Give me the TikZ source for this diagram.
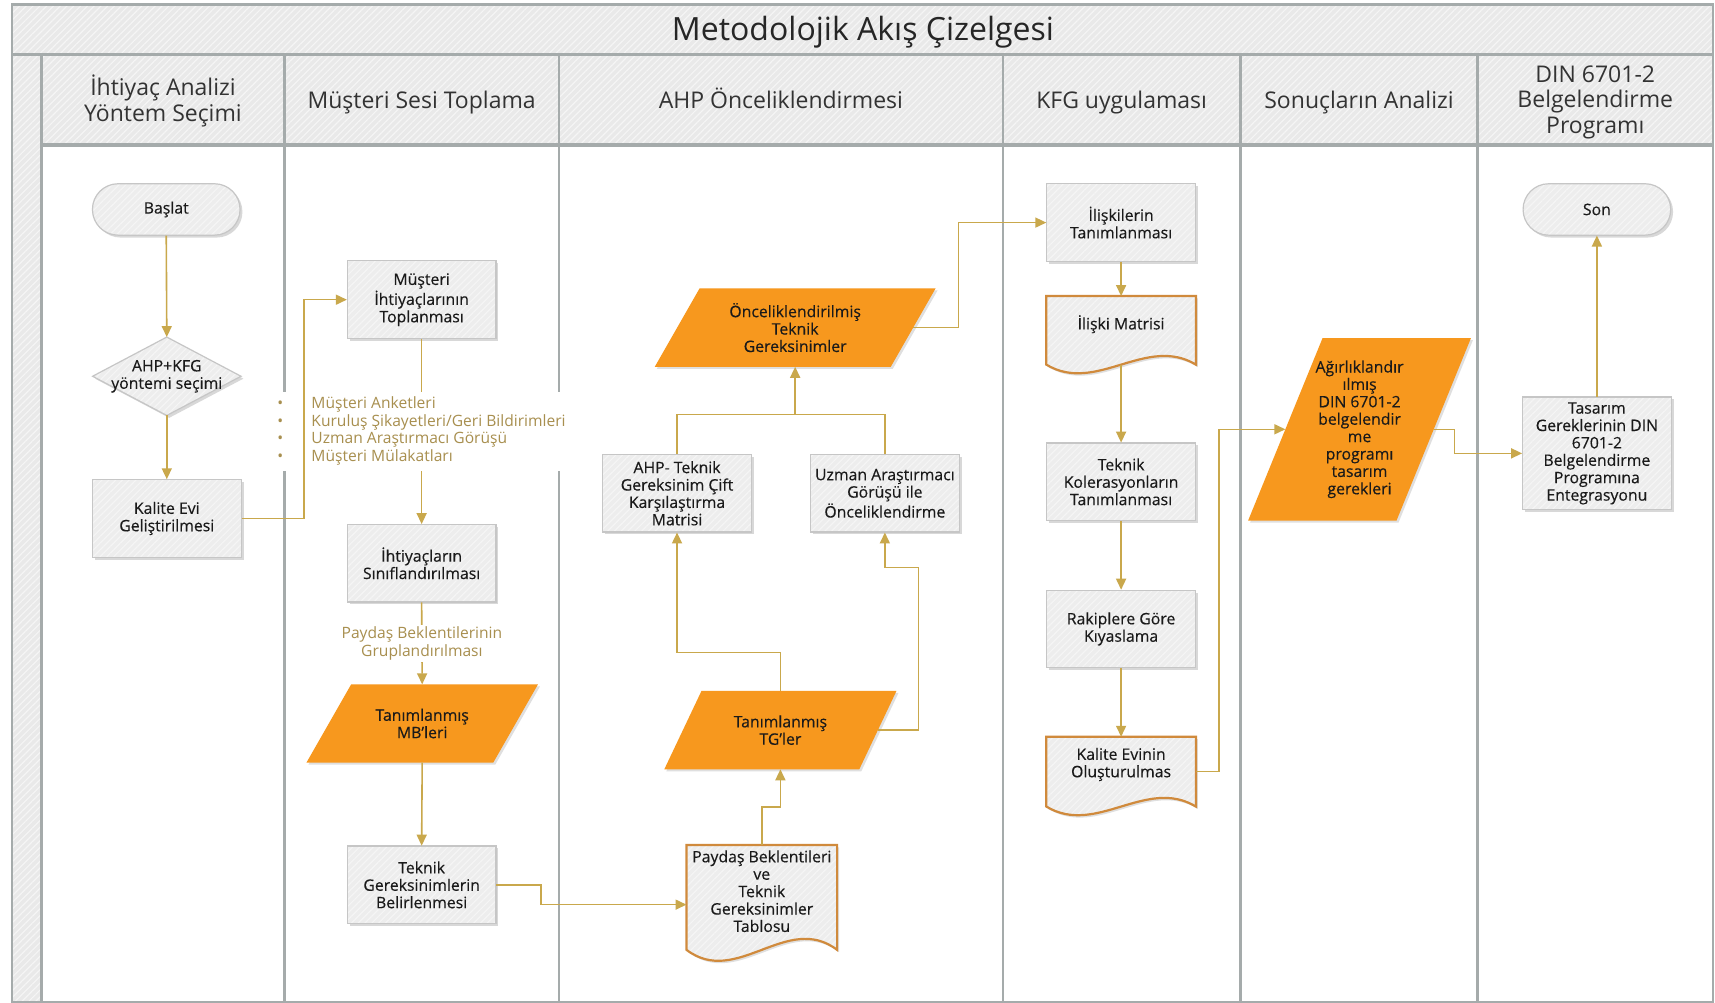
\documentclass[tikz,border=0pt]{standalone}
\usepackage{fontspec}
\setmainfont{Open Sans}
\newfontfamily\boxfam[FakeBold=0.35]{Open Sans}
\usetikzlibrary{arrows.meta,shadows,calc,patterns.meta}
\pgfdeclarelayer{lanes}
\pgfdeclarelayer{shp}
\pgfsetlayers{lanes,shp,main}

\definecolor{gold}{HTML}{C9A84C}
\definecolor{goldtxt}{HTML}{A88F4F}
\definecolor{orng}{HTML}{F7981E}
\definecolor{boxfill}{HTML}{EDEDED}
\definecolor{boxline}{HTML}{C6C6C6}
\definecolor{docline}{HTML}{D08A3C}
\definecolor{lanegray}{HTML}{A5ABAB}
\definecolor{bandfill}{HTML}{E9E9E9}
\definecolor{txt}{HTML}{1A1A1A}

\newcommand\myboxf{\boxfam\fontsize{7.9pt}{8.7pt}\selectfont}
\newcommand\myhdrf{\fontsize{11.5pt}{12.9pt}\selectfont}
\newcommand\mytitf{\fontsize{16pt}{18pt}\selectfont}
\newcommand\mybulf{\fontsize{7.8pt}{8.9pt}\selectfont}
\newcommand\upbox[2]{\raisebox{#1}[\height][\depth]{\begin{tabular}{@{}c@{}}#2\end{tabular}}}

\tikzset{
  hatchfill/.style={postaction={pattern={Lines[angle=45,distance=2.4pt,line width=0.6pt]},pattern color=white!55!bandfill}},
  proc/.style={fill=boxfill, minimum width=74.4pt, minimum height=38.8pt,
    inner sep=1pt, align=center, font=\myboxf, text=txt, hatchfill,
    postaction={draw=boxline, line width=0.6pt},
    drop shadow={shadow xshift=1.2pt,shadow yshift=-1.2pt,opacity=0.3}},
  term/.style={proc, rounded corners=12.8pt, minimum width=73.8pt, minimum height=25.7pt},
  tbox/.style={draw=none, inner sep=0pt, align=center, font=\myboxf, text=txt},
  arr/.style={draw=gold, line width=0.8pt, -{Triangle[length=5.5pt,width=5pt]}},
  conn/.style={draw=gold, line width=0.8pt},
  lane/.style={draw=lanegray, line width=1.2pt},
  hdr/.style={font=\myhdrf, text=black!80, align=center},
}

\newcommand\paral[2]{\begin{pgfonlayer}{shp}
  \path[fill=orng, drop shadow={shadow xshift=1pt,shadow yshift=-1pt,opacity=0.25}]
    ([xshift=-#2]#1.south west) -- ([xshift=-#2]#1.south east) -- ([xshift=#2]#1.north east) -- ([xshift=#2]#1.north west) -- cycle;
  \end{pgfonlayer}}
\newcommand\docshp[2]{\begin{pgfonlayer}{shp}
  \path[fill=boxfill, hatchfill, postaction={draw=docline, line width=1.1pt}, drop shadow={shadow xshift=1pt,shadow yshift=-1.2pt,opacity=0.25}]
    (#1.north west) -- (#1.north east) -- (#1.south east)
    .. controls ($(#1.south east)!0.333!(#1.south west)+(0pt,#2)$) and ($(#1.south east)!0.667!(#1.south west)-(0pt,#2)$) .. (#1.south west) -- cycle;
  \end{pgfonlayer}}
\newcommand\diashp[1]{\begin{pgfonlayer}{shp}
  \path[fill=boxfill, hatchfill, postaction={draw=boxline, line width=0.6pt}, drop shadow={shadow xshift=1.2pt,shadow yshift=-1.2pt,opacity=0.3}]
    (#1.north) -- (#1.east) -- (#1.south) -- (#1.west) -- cycle;
  \end{pgfonlayer}}

\begin{document}
\begin{tikzpicture}[x=0.5469pt,y=-0.5469pt]
\useasboundingbox (0,0) rectangle (1568,917);

% ---------- swimlane frame ----------
\begin{pgfonlayer}{lanes}
  \fill[white] (0,0) rectangle (1568,917);
  \path[fill=bandfill,hatchfill] (11,4) rectangle (1566,50);
  \path[fill=bandfill,hatchfill] (11,50) rectangle (38,916);
  \path[fill=bandfill,hatchfill] (38,50) rectangle (1566,133);
  \draw[lane] (11,4) rectangle (1566,916);
  \draw[lane] (11,50) -- (1566,50);
  \draw[lane, line width=2pt] (38,133) -- (1566,133);
  \foreach \x in {38,260,511,917,1134,1351} \draw[lane] (\x,50) -- (\x,916);
\end{pgfonlayer}

% ---------- titles ----------
\node[font=\mytitf, text=black!85] (title) at (789,29) {Metodolojik Akış Çizelgesi};
\node[hdr] (h1) at (149,92.5) {İhtiyaç Analizi\\Yöntem Seçimi};
\node[hdr] (h2) at (385.5,93.5) {Müşteri Sesi Toplama};
\node[hdr] (h3) at (714,89.5) {AHP Önceliklendirmesi};
\node[hdr] (h4) at (1025.5,93.5) {KFG uygulaması};
\node[hdr] (h5) at (1242.5,93.5) {Sonuçların Analizi};
\node[hdr] (h6) at (1458.5,93.5) {DIN 6701-2\\Belgelendirme\\Programı};

% ---------- lane 1 ----------
\node[term] (bas) at (152,191.5) {Başlat};
\node[tbox, minimum width=73.8pt, minimum height=38.8pt] (dia) at (152.5,344) {AHP+KFG\\yöntemi seçimi};
\diashp{dia}
\node[proc] (kev) at (152.5,474) {Kalite Evi\\Geliştirilmesi};

% ---------- lane 2 ----------
\node[proc] (mit) at (385.5,274) {Müşteri\\İhtiyaçlarının\\Toplanması};
\node[proc] (ihs) at (385.5,515) {İhtiyaçların\\Sınıflandırılması};
\node[tbox, minimum width=93pt, minimum height=38.8pt] (mb) at (386,661.5) {Tanımlanmış\\MB’leri};
\paral{mb}{11.2pt}
\node[proc] (tgb) at (385.5,809) {Teknik\\Gereksinimlerin\\Belirlenmesi};

% ---------- lane 3 ----------
\node[tbox, minimum width=74.9pt, minimum height=52pt] (pbt) at (696.5,820.5)
  {\upbox{1.9pt}{Paydaş Beklentileri\\ve\\Teknik\\Gereksinimler\\Tablosu}};
\docshp{pbt}{19pt}
\node[tbox, minimum width=97.1pt, minimum height=38.8pt] (tg) at (713.5,667.5) {Tanımlanmış\\TG’ler};
\paral{tg}{9.3pt}
\node[proc] (ahpm) at (619,451) {AHP- Teknik\\Gereksinim Çift\\Karşılaştırma\\Matrisi};
\node[proc] (uzm) at (809,451) {Uzman Araştırmacı\\Görüşü ile\\Önceliklendirme};
\node[tbox, minimum width=117.6pt, minimum height=38.8pt] (onc) at (727,299.5) {Önceliklendirilmiş\\Teknik\\Gereksinimler};
\paral{onc}{11.2pt}
\coordinate (j1) at (727,379);

% ---------- lane 4 ----------
\node[proc] (ilt) at (1025,203.5) {İlişkilerin\\Tanımlanması};
\node[tbox, minimum width=74.4pt, minimum height=33.9pt] (ilm) at (1025,302) {\upbox{2.7pt}{İlişki Matrisi}};
\docshp{ilm}{15pt}
\node[proc] (tkt) at (1025,440.5) {Teknik\\Kolerasyonların\\Tanımlanması};
\node[proc] (rak) at (1025,575) {Rakiplere Göre\\Kıyaslama};
\node[tbox, minimum width=74.4pt, minimum height=34.5pt] (kev2) at (1025,705.5) {\upbox{3.3pt}{Kalite Evinin\\Oluşturulmas}};
\docshp{kev2}{15pt}

% ---------- lane 5 ----------
\node[tbox, minimum width=73.8pt, minimum height=90.8pt] (agr) at (1243,392.5)
  {Ağırlıklandır\\ılmış\\DIN 6701-2\\belgelendir\\me\\programı\\tasarım\\gerekleri};
\paral{agr}{18.6pt}

% ---------- lane 6 ----------
\node[term] (son) at (1460,191.5) {Son};
\node[proc, minimum height=56.3pt] (tas) at (1460,414.5) {Tasarım\\Gereklerinin DIN\\6701-2\\Belgelendirme\\Programına\\Entegrasyonu};

% ---------- connectors ----------
\draw[arr] (bas.south) -- (dia.north);
\draw[arr] (dia.south) -- (kev.north);
\draw[arr] (mit.south) -- (ihs.north);
\node[fill=white, inner xsep=4pt, inner ysep=2pt, anchor=west, font=\mybulf, text=goldtxt] (bul) at (246,394.5)
  {\begin{tabular}{@{}l@{}l@{}}
   \makebox[17pt][l]{•} & Müşteri Anketleri\\
   \makebox[17pt][l]{•} & Kuruluş Şikayetleri/Geri Bildirimleri\\
   \makebox[17pt][l]{•} & Uzman Araştırmacı Görüşü\\
   \makebox[17pt][l]{•} & Müşteri Mülakatları
   \end{tabular}};
\draw[arr] (kev.east) -- ++(57,0) |- (mit.west);
\draw[arr] (ihs.south) -- node[fill=white, font=\mybulf, text=goldtxt, align=center, inner sep=1pt] (lbl)
  {Paydaş Beklentilerinin\\Gruplandırılması} (mb.north);
\draw[arr] (mb.south) -- (tgb.north);
\draw[arr] (tgb.east) -- ++(41,0) |- ([yshift=-3.6pt]pbt.west);
\draw[arr] (pbt.north) -- ++(0,-35) -| (tg.south);
\draw[arr] (tg.north) -- ++(0,-35) -| (ahpm.south);
\draw[arr] (tg.east) -- ++(37,0) -- ++(0,-148.5) -| (uzm.south);
\draw[conn] (ahpm.north) |- (j1);
\draw[conn] (uzm.north) |- (j1);
\draw[arr] (j1) -- (onc.south);
\draw[arr] (onc.east) -- ++(41.5,0) |- (ilt.west);
\draw[arr] (ilt.south) -- (ilm.north);
\draw[arr] (ilm.south) -- (tkt.north);
\draw[arr] (tkt.south) -- (rak.north);
\draw[arr] (rak.south) -- (kev2.north);
\draw[arr] (kev2.east) -- ++(21,0) |- (agr.west);
\draw[arr] (agr.east) -- ++(19,0) |- (tas.west);
\draw[arr] (tas.north) -- (son.south);
\end{tikzpicture}
\end{document}
